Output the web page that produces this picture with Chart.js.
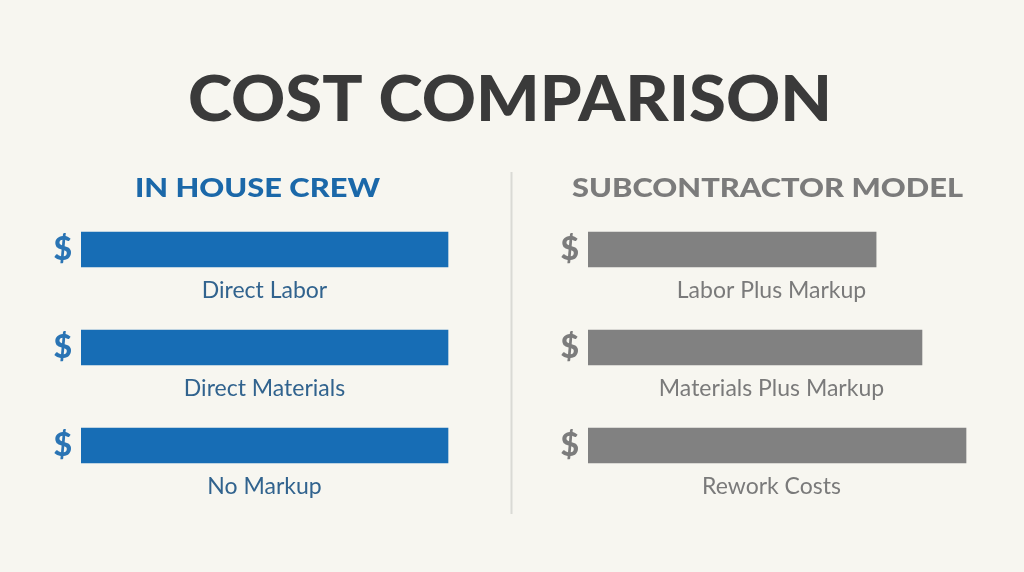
<!DOCTYPE html>
<html><head><meta charset="utf-8">
<script src="https://cdn.jsdelivr.net/npm/chart.js@4.4.1/dist/chart.umd.min.js"></script>
<style>
html,body{margin:0;padding:0;background:#f7f6f0;}
#wrap{position:relative;width:1024px;height:572px;overflow:hidden;background:#f7f6f0;}
#wrap canvas{position:absolute;left:0;top:0;}
</style></head><body>
<div id="wrap">
<canvas id="left" width="1024" height="572"></canvas>
<canvas id="right" width="1024" height="572"></canvas>
</div>
<script>
// ---- data ----
const mainTitle = "COST COMPARISON";
const leftTitle = "IN HOUSE CREW";
const rightTitle = "SUBCONTRACTOR MODEL";
const leftCategories = ["Direct Labor", "Direct Materials", "No Markup"];
const leftValues = [100, 100, 100];
const rightCategories = ["Labor Plus Markup", "Materials Plus Markup", "Rework Costs"];
const rightValues = [78.5, 91, 103];
const tickLabel = "$";

// ---- helpers ----
function fitText(ctx, text, cx, baseline, width, font, color, spacing) {
  ctx.save();
  ctx.font = font; ctx.fillStyle = color;
  if (spacing) ctx.letterSpacing = spacing;
  ctx.textAlign = 'center'; ctx.textBaseline = 'alphabetic';
  const w = ctx.measureText(text).width;
  ctx.translate(cx, baseline);
  ctx.scale(width / w, 1);
  ctx.fillText(text, 0, 0);
  ctx.restore();
}

const panelPlugin = {
  id: 'panelText',
  afterDatasetsDraw(chart, args, opts) {
    const ctx = chart.ctx;
    const xs = chart.scales.x, ys = chart.scales.y;
    if (opts.main) {
      fitText(ctx, mainTitle, 510, 121, 644, '900 63px Lato, "DejaVu Sans", sans-serif', '#3a3a3a', '0px');
      ctx.save();
      ctx.strokeStyle = '#dadad5'; ctx.lineWidth = 2;
      ctx.beginPath(); ctx.moveTo(511.5, 172); ctx.lineTo(511.5, 514); ctx.stroke();
      ctx.restore();
    }
    fitText(ctx, opts.header, opts.headerX, 197, opts.headerWidth, '900 27px Lato, "DejaVu Sans", sans-serif', opts.headerColor, '0px');
    ctx.save();
    ctx.font = '400 23px Lato, sans-serif';
    ctx.fillStyle = opts.labelColor;
    ctx.textAlign = 'center'; ctx.textBaseline = 'alphabetic';
    const cx = xs.getPixelForValue(50);
    chart.data.labels.forEach((lab, i) => {
      ctx.fillText(lab, cx, ys.getPixelForValue(i) + 48.5);
    });
    ctx.restore();
  }
};

function makeChart(id, labels, values, color, tickColor, axisWidth, pad, pluginOpts) {
  return new Chart(document.getElementById(id), {
    type: 'bar',
    data: { labels: labels, datasets: [{ data: values, backgroundColor: color, borderWidth: 0, barThickness: 35 }] },
    options: {
      indexAxis: 'y', responsive: false, animation: false, devicePixelRatio: 1,
      layout: { padding: pad },
      scales: {
        x: { type: 'linear', min: 0, max: 110, display: false },
        y: {
          type: 'category', offset: true,
          grid: { display: false, drawTicks: false }, border: { display: false },
          ticks: { padding: 9, color: tickColor, font: { family: 'Lato', weight: '900', size: 32 }, callback: () => tickLabel },
          afterFit: s => { s.width = axisWidth; }
        }
      },
      plugins: { legend: { display: false }, tooltip: { enabled: false }, panelText: pluginOpts }
    },
    plugins: [panelPlugin]
  });
}

makeChart('left', leftCategories, leftValues, '#176db5', '#2a74b4', 81,
  { left: 0, right: 539.3, top: 200.5, bottom: 77.5 },
  { main: true, header: leftTitle, headerX: 257.5, headerWidth: 245, headerColor: '#1b68a9', labelColor: '#31638e' });
makeChart('right', rightCategories, rightValues, '#818181', '#7c7c7c', 76,
  { left: 512, right: 32.3, top: 200.5, bottom: 77.5 },
  { main: false, header: rightTitle, headerX: 767.5, headerWidth: 391, headerColor: '#7b7b7b', labelColor: '#7a7a7a' });
</script>
</body></html>
